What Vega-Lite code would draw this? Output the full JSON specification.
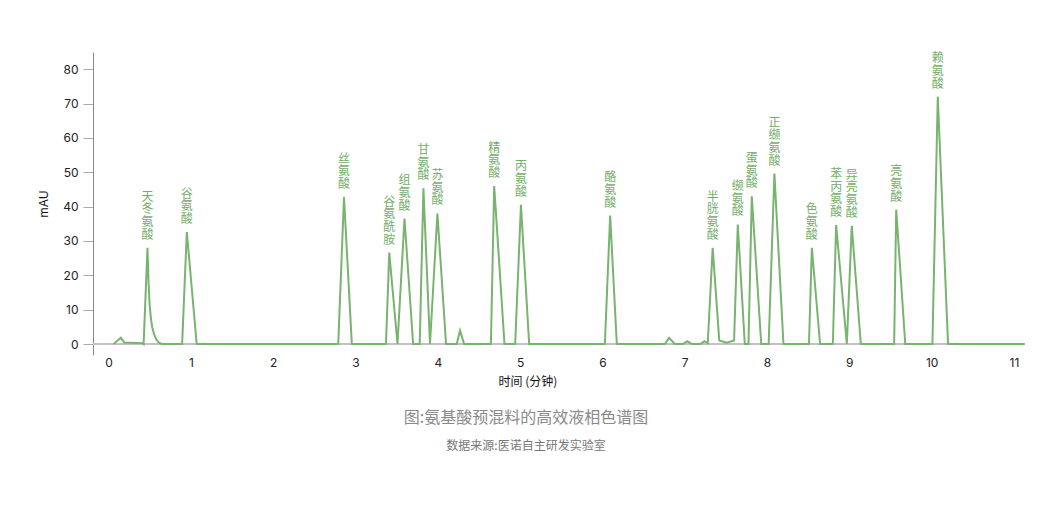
{
  "$schema": "https://vega.github.io/schema/vega-lite/v6.json",
  "autosize": {"type": "none"},
  "padding": {"left": 93, "top": 52, "right": 30, "bottom": 154},
  "width": 932,
  "height": 303,
  "background": "white",
  "config": {
    "view": {"stroke": null},
    "font": "Inter",
    "axisY": {"labelOverlap": false, "tickCount": 9}
  },
  "title": {
    "text": "图:氨基酸预混料的高效液相色谱图",
    "subtitle": "数据来源:医诺自主研发实验室",
    "orient": "bottom",
    "anchor": "middle",
    "offset": 23,
    "dx": -33,
    "font": "Noto Sans CJK SC",
    "fontSize": 16,
    "fontWeight": "normal",
    "color": "#8a8a8a",
    "subtitleFont": "Noto Sans CJK SC",
    "subtitleFontSize": 12,
    "subtitleColor": "#777777",
    "subtitlePadding": 15
  },
  "datasets": {
    "signal": [
      {"t": 0.06, "v": 0}, {"t": 0.148, "v": 1.8}, {"t": 0.19, "v": 0.45}, {"t": 0.415, "v": 0.25},
      {"t": 0.425, "v": 0}, {"t": 0.472, "v": 28}, {"t": 0.485, "v": 18}, {"t": 0.498, "v": 11.5},
      {"t": 0.513, "v": 7.5}, {"t": 0.53, "v": 4.8}, {"t": 0.553, "v": 2.8}, {"t": 0.58, "v": 1.3},
      {"t": 0.61, "v": 0.4}, {"t": 0.65, "v": 0}, {"t": 0.893, "v": 0}, {"t": 0.95, "v": 32.6},
      {"t": 1.07, "v": 0}, {"t": 2.79, "v": 0}, {"t": 2.86, "v": 42.8}, {"t": 2.955, "v": 0},
      {"t": 3.37, "v": 0}, {"t": 3.41, "v": 26.6}, {"t": 3.51, "v": 0}, {"t": 3.595, "v": 36.5},
      {"t": 3.7, "v": 0}, {"t": 3.78, "v": 0}, {"t": 3.825, "v": 45.3}, {"t": 3.905, "v": 0},
      {"t": 3.995, "v": 38}, {"t": 4.1, "v": 0}, {"t": 4.23, "v": 0}, {"t": 4.27, "v": 3.9},
      {"t": 4.32, "v": 0}, {"t": 4.645, "v": 0}, {"t": 4.685, "v": 46}, {"t": 4.81, "v": 0},
      {"t": 4.94, "v": 0}, {"t": 5.01, "v": 40.5}, {"t": 5.11, "v": 0}, {"t": 6.03, "v": 0},
      {"t": 6.094, "v": 37.4}, {"t": 6.175, "v": 0}, {"t": 6.76, "v": 0}, {"t": 6.81, "v": 1.8},
      {"t": 6.88, "v": 0}, {"t": 6.98, "v": 0}, {"t": 7.03, "v": 0.8}, {"t": 7.09, "v": 0},
      {"t": 7.19, "v": 0}, {"t": 7.24, "v": 0.8}, {"t": 7.28, "v": 0.2}, {"t": 7.34, "v": 28},
      {"t": 7.42, "v": 1.0}, {"t": 7.51, "v": 0.4}, {"t": 7.6, "v": 1.0}, {"t": 7.645, "v": 34.8},
      {"t": 7.73, "v": 0}, {"t": 7.775, "v": 0}, {"t": 7.815, "v": 43}, {"t": 7.93, "v": 0},
      {"t": 8.02, "v": 0}, {"t": 8.09, "v": 49.6}, {"t": 8.2, "v": 0}, {"t": 8.51, "v": 0},
      {"t": 8.545, "v": 28}, {"t": 8.645, "v": 0}, {"t": 8.8, "v": 0}, {"t": 8.84, "v": 34.6},
      {"t": 8.97, "v": 0}, {"t": 9.03, "v": 34.4}, {"t": 9.14, "v": 0}, {"t": 9.545, "v": 0},
      {"t": 9.57, "v": 39.1}, {"t": 9.68, "v": 0}, {"t": 10.01, "v": 0}, {"t": 10.075, "v": 72},
      {"t": 10.2, "v": 0}, {"t": 11.13, "v": 0}
    ],
    "peaks": [
      {"t": 0.472, "v": 28, "label": "天\n冬\n氨\n酸", "n": 4},
      {"t": 0.95, "v": 32.6, "label": "谷\n氨\n酸", "n": 3},
      {"t": 2.86, "v": 42.8, "label": "丝\n氨\n酸", "n": 3},
      {"t": 3.41, "v": 26.6, "label": "谷\n氨\n酰\n胺", "n": 4},
      {"t": 3.595, "v": 36.5, "label": "组\n氨\n酸", "n": 3},
      {"t": 3.825, "v": 45.3, "label": "甘\n氨\n酸", "n": 3},
      {"t": 3.995, "v": 38, "label": "苏\n氨\n酸", "n": 3},
      {"t": 4.685, "v": 46, "label": "精\n氨\n酸", "n": 3},
      {"t": 5.01, "v": 40.5, "label": "丙\n氨\n酸", "n": 3},
      {"t": 6.094, "v": 37.4, "label": "酪\n氨\n酸", "n": 3},
      {"t": 7.34, "v": 28, "label": "半\n胱\n氨\n酸", "n": 4},
      {"t": 7.645, "v": 34.8, "label": "缬\n氨\n酸", "n": 3},
      {"t": 7.815, "v": 43, "label": "蛋\n氨\n酸", "n": 3},
      {"t": 8.09, "v": 49.6, "label": "正\n缬\n氨\n酸", "n": 4},
      {"t": 8.545, "v": 28, "label": "色\n氨\n酸", "n": 3},
      {"t": 8.84, "v": 34.6, "label": "苯\n丙\n氨\n酸", "n": 4},
      {"t": 9.03, "v": 34.4, "label": "异\n亮\n氨\n酸", "n": 4},
      {"t": 9.57, "v": 39.1, "label": "亮\n氨\n酸", "n": 3},
      {"t": 10.075, "v": 72, "label": "赖\n氨\n酸", "n": 3}
    ]
  },
  "layer": [
    {
      "data": {"name": "signal"},
      "mark": {"type": "rule", "color": "#c2c2c2", "strokeWidth": 2},
      "encoding": {
        "y": {
          "datum": 0,
          "type": "quantitative",
          "scale": {"domain": [-3.2, 85], "nice": false, "zero": false},
          "axis": {
            "values": [0, 10, 20, 30, 40, 50, 60, 70, 80],
            "format": "d",
            "title": "mAU",
            "grid": false,
            "labelOverlap": false,
            "domainColor": "#888888",
            "tickColor": "#aaaaaa",
            "tickSize": 10,
            "labelPadding": 5,
            "labelFontSize": 12,
            "labelColor": "#222222",
            "titleFontSize": 12,
            "titleFontWeight": "normal",
            "titleColor": "#111111",
            "titlePadding": 12
          }
        }
      }
    },
    {
      "data": {"name": "signal"},
      "mark": {"type": "line", "color": "#78b36f", "strokeWidth": 2, "interpolate": "linear"},
      "encoding": {
        "x": {
          "field": "t",
          "type": "quantitative",
          "scale": {"domain": [-0.19, 11.135], "nice": false, "zero": false},
          "axis": {
            "values": [0, 1, 2, 3, 4, 5, 6, 7, 8, 9, 10, 11],
            "format": "d",
            "title": "时间 (分钟)",
            "domain": false,
            "ticks": false,
            "grid": false,
            "labelPadding": 2,
            "labelFontSize": 12,
            "labelColor": "#222222",
            "titleFont": "Noto Sans CJK SC",
            "titleFontSize": 12,
            "titleFontWeight": "normal",
            "titleColor": "#111111",
            "titlePadding": 8,
            "titleX": 434.5
          }
        },
        "y": {
          "field": "v",
          "type": "quantitative",
          "axis": {
            "values": [0, 10, 20, 30, 40, 50, 60, 70, 80],
            "format": "d",
            "title": "mAU",
            "grid": false,
            "labelOverlap": false,
            "domainColor": "#888888",
            "tickColor": "#aaaaaa",
            "tickSize": 10,
            "labelPadding": 5,
            "labelFontSize": 12,
            "labelColor": "#222222",
            "titleFontSize": 12,
            "titleFontWeight": "normal",
            "titleColor": "#111111",
            "titlePadding": 12
          }
        }
      }
    },
    {
      "data": {"name": "peaks"},
      "transform": [{"filter": "datum.n == 3"}],
      "mark": {
        "type": "text",
        "align": "center",
        "baseline": "bottom",
        "dy": -31.4,
        "font": "Noto Sans CJK SC",
        "fontSize": 12,
        "lineHeight": 12.7,
        "lineBreak": "\n",
        "color": "#74ae6a"
      },
      "encoding": {
        "x": {"field": "t", "type": "quantitative"},
        "y": {"field": "v", "type": "quantitative", "axis": {"values": [0, 10, 20, 30, 40, 50, 60, 70, 80], "labelOverlap": false}},
        "text": {"field": "label", "type": "nominal"}
      }
    },
    {
      "data": {"name": "peaks"},
      "transform": [{"filter": "datum.n == 4"}],
      "mark": {
        "type": "text",
        "align": "center",
        "baseline": "bottom",
        "dy": -44.1,
        "font": "Noto Sans CJK SC",
        "fontSize": 12,
        "lineHeight": 12.7,
        "lineBreak": "\n",
        "color": "#74ae6a"
      },
      "encoding": {
        "x": {"field": "t", "type": "quantitative"},
        "y": {"field": "v", "type": "quantitative", "axis": {"values": [0, 10, 20, 30, 40, 50, 60, 70, 80], "labelOverlap": false}},
        "text": {"field": "label", "type": "nominal"}
      }
    }
  ]
}
